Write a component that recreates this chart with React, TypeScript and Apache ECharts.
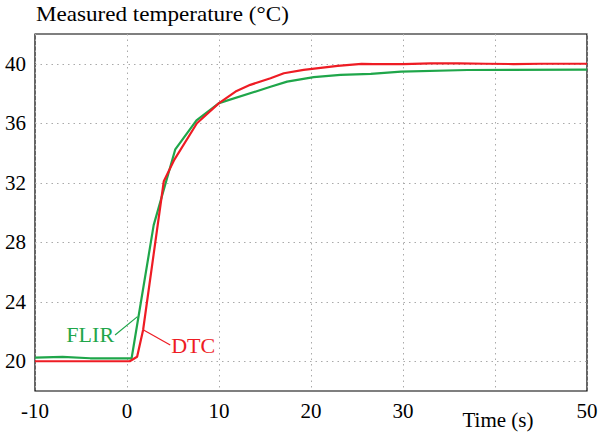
import React, { useEffect, useRef } from "react";
import * as echarts from "echarts";

const flirTime = [-10, -7, -4, 0.5, 2.9, 5.25, 7.55, 10, 15.6, 17.4, 20.3, 23.2, 26.5, 29.8, 37, 50];
const flirTemp = [20.25, 20.3, 20.2, 20.2, 29.15, 34.25, 36.2, 37.35, 38.45, 38.8, 39.1, 39.25, 39.32, 39.47, 39.58, 39.6];

const dtcTime = [-10, 0.3, 1.1, 1.75, 4.0, 5.1, 7.6, 10, 11.8, 13.4, 15.6, 17.05, 19.2, 22.9, 25.5, 26.8, 30, 33, 36, 39, 42, 45, 48, 50];
const dtcTemp = [20, 20, 20.3, 22.1, 32.1, 33.5, 36.0, 37.35, 38.13, 38.58, 39.03, 39.36, 39.59, 39.86, 39.99, 39.97, 39.98, 40.02, 40.02, 40.0, 39.98, 40.0, 40.0, 40.0];

const yGridValues = [20, 24, 28, 32, 36, 40];
const xLabelsHidden = [40];

// annotation positions in data coordinates
const flirLabel = { text: "FLIR", at: [-4.0, 21.77], leader: [[-1.3, 21.77], [1.14, 23.0]] };
const dtcLabel = { text: "DTC", at: [7.2, 20.98], leader: [[1.8, 22.1], [4.7, 21.09]] };

const RED = "#ee1c24";
const GREEN = "#1fa64a";
const FONT = "'Liberation Serif', 'Times New Roman', serif";
const FS = 21;

export default function App() {
  const ref = useRef<HTMLDivElement>(null);
  useEffect(() => {
    const chart = echarts.init(ref.current!, null, { renderer: "svg" });
    const option: any = {
      animation: false,
      textStyle: { fontFamily: FONT },
      grid: {
        left: 35,
        right: 12,
        top: 34,
        bottom: 41,
        show: true,
        borderColor: "#000",
        borderWidth: 1.2,
        outerBoundsMode: "none",
      },
      xAxis: {
        type: "value",
        min: -10,
        max: 50,
        interval: 10,
        axisLine: { show: false },
        axisTick: { show: false },
        axisLabel: {
          fontFamily: FONT,
          fontSize: FS,
          color: "#000",
          margin: 9,
          formatter: (v: number) => (xLabelsHidden.includes(v) ? "" : String(v)),
        },
        splitLine: { show: true, lineStyle: { color: "#aaa", type: [1.5, 4], width: 1 } },
      },
      yAxis: {
        type: "value",
        min: 18,
        max: 42,
        interval: 2,
        axisLine: { show: false },
        axisTick: { show: false },
        axisLabel: {
          fontFamily: FONT,
          fontSize: FS,
          color: "#000",
          margin: 9,
          formatter: (v: number) => (yGridValues.includes(v) ? String(v) : ""),
        },
        splitLine: { show: false },
      },
      series: [
        {
          name: "FLIR",
          type: "line",
          data: flirTime.map((t, i) => [t, flirTemp[i]]),
          showSymbol: false,
          lineStyle: { color: GREEN, width: 2.2 },
          itemStyle: { color: GREEN },
          z: 3,
          markLine: {
            silent: true,
            symbol: "none",
            label: { show: false },
            lineStyle: { color: "#aaa", type: [1.5, 4], width: 1 },
            data: yGridValues.map((v) => ({ yAxis: v })),
            z: 1,
          },
        },
        {
          name: "DTC",
          type: "line",
          data: dtcTime.map((t, i) => [t, dtcTemp[i]]),
          showSymbol: false,
          lineStyle: { color: RED, width: 2.2 },
          itemStyle: { color: RED },
          z: 4,
        },
      ],
    };
    chart.setOption(option);

    const px = (p: number[]) => chart.convertToPixel({ gridIndex: 0 }, p) as number[];
    const annot = (a: any, color: string) => {
      const c = px(a.at);
      const l0 = px(a.leader[0]);
      const l1 = px(a.leader[1]);
      return [
        {
          type: "text",
          x: c[0],
          y: c[1],
          scaleX: 1.05,
          style: { text: a.text, fill: color, fontSize: FS, fontFamily: FONT, align: "center", verticalAlign: "middle" },
          z: 10,
        },
        {
          type: "line",
          shape: { x1: l0[0], y1: l0[1], x2: l1[0], y2: l1[1] },
          style: { stroke: color, lineWidth: 1.2 },
          z: 10,
        },
      ];
    };
    const timePos = px([40, 18]);
    chart.setOption({
      graphic: [
        ...annot(flirLabel, GREEN),
        ...annot(dtcLabel, RED),
        {
          type: "text",
          x: 36,
          y: 14,
          scaleX: 1.1,
          style: { text: "Measured temperature (°C)", fill: "#000", fontSize: FS, fontFamily: FONT, align: "left", verticalAlign: "middle" },
        },
        {
          type: "text",
          x: timePos[0] + 3,
          y: 420,
          style: { text: "Time (s)", fill: "#000", fontSize: FS, fontFamily: FONT, align: "center", verticalAlign: "middle" },
        },
      ],
    });
    return () => chart.dispose();
  }, []);
  return <div ref={ref} style={{ width: 599, height: 432, position: "absolute", left: 0, top: 0 }} />;
}
